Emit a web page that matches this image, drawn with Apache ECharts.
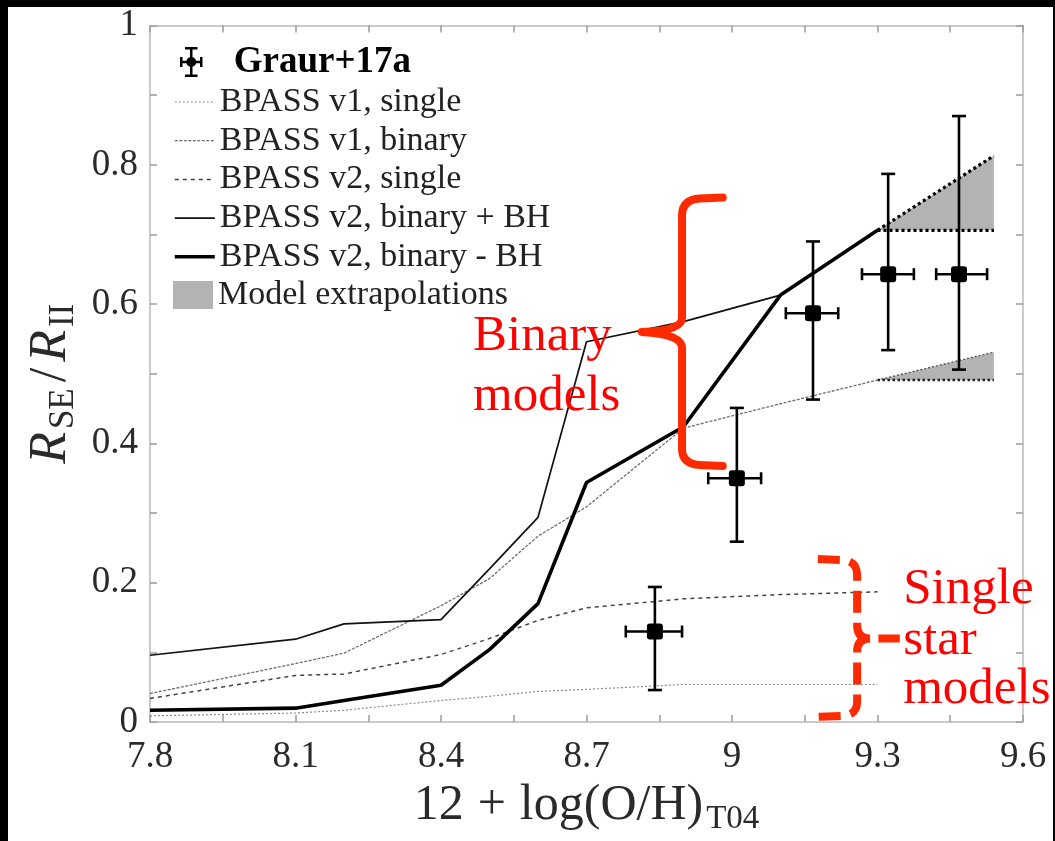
<!DOCTYPE html>
<html>
<head>
<meta charset="utf-8">
<script src="https://cdn.jsdelivr.net/npm/echarts@6/dist/echarts.min.js"></script>
<style>
  html, body { margin: 0; padding: 0; background: #000; width: 1055px; height: 841px; overflow: hidden; }
  #chart { position: absolute; left: 8px; top: 7px; width: 1045px; height: 834px; background: #fff; }
</style>
</head>
<body>
<div id="chart"></div>
<script>
// Oxygen abundance grid of the BPASS model tracks
const metallicity = [7.8, 8.1, 8.2, 8.4, 8.5, 8.6, 8.7, 8.9, 9.1, 9.3];
// SN Ib/c to SN II rate ratio predicted by each model set
const v1Single     = [0.009, 0.013, 0.017, 0.031, 0.037, 0.044, 0.047, 0.054, 0.054, 0.054];
const v1Binary     = [0.041, 0.084, 0.099, 0.167, 0.206, 0.267, 0.309, 0.422, 0.457, 0.491];
const v2Single     = [0.034, 0.067, 0.069, 0.097, 0.120, 0.146, 0.164, 0.177, 0.183, 0.187];
const v2BinaryBH   = [0.096, 0.119, 0.141, 0.147, 0.220, 0.294, 0.546, 0.575, 0.613, 0.706];
const v2BinaryNoBH = [0.017, 0.020, 0.031, 0.053, 0.104, 0.170, 0.344, 0.424, 0.613, 0.706];

// Extrapolation wedges beyond the last model metallicity
const extrapX         = [9.3, 9.54];
const upperExtrapTop  = [0.706, 0.813];
const upperExtrapBase = 0.706;
const lowerExtrapTop  = [0.491, 0.531];
const lowerExtrapBase = 0.491;

// Graur+17a measurements with uncertainties
const graurOH          = [8.841, 9.010, 9.167, 9.322, 9.468];
const graurOHLow       = [8.781, 8.951, 9.111, 9.268, 9.421];
const graurOHHigh      = [8.897, 9.060, 9.219, 9.375, 9.526];
const graurRatio       = [0.130, 0.350, 0.587, 0.643, 0.643];
const graurRatioLow    = [0.046, 0.259, 0.463, 0.534, 0.506];
const graurRatioHigh   = [0.194, 0.451, 0.690, 0.787, 0.870];

// Axis ranges and tick steps
const xRange = [7.8, 9.6], xStep = 0.3;
const yRange = [0, 1], yStep = 0.2;

// Annotation braces: [xEnd, xStem, xTip, yTop, yTip, yBottom, opensLeft(1) / opensRight(0)]
const braceRows = [
  [8.981, 8.897, 8.814, 0.753, 0.560, 0.369, 1],
  [9.177, 9.258, 9.346, 0.234, 0.120, 0.009, 0]
];
// Annotation words and their left/middle anchors in data units
const noteWords = ['Binary', 'models', 'Single', 'star', 'models'];
const noteX     = [8.466, 8.466, 9.353, 9.353, 9.353];
const noteY     = [0.554, 0.467, 0.190, 0.117, 0.047];

const SERIF = "'Liberation Serif', 'DejaVu Serif', serif";
const FRAME = '#b8b8b8';
const TICK = '#9c9c9c';
const INK = '#2a2a2a';
const RED_TEXT = '#ff0000';
const RED_BRACE = '#ff2b00';

// Line looks of the model tracks: [colour, width, dash]
const trackStyles = {
  'BPASS v1, single':      ['#8c8c8c', 1.2, [2, 2]],
  'BPASS v1, binary':      ['#6e6e6e', 1.3, [3, 1.5]],
  'BPASS v2, single':      ['#444444', 1.5, [4, 4]],
  'BPASS v2, binary + BH': ['#111111', 1.7, 'solid'],
  'BPASS v2, binary - BH': ['#000000', 3.6, 'solid']
};

const pairs = (ys) => metallicity.map((x, i) => [x, ys[i]]);

function lineSeries(name, data, color, width, type, z) {
  return {
    name, type: 'line', data, symbol: 'none', silent: true, z,
    lineStyle: { color, width, type }, itemStyle: { color }
  };
}
function trackSeries(name, ys) {
  const [c, w, t] = trackStyles[name];
  return lineSeries(name, pairs(ys), c, w, t, name.indexOf('binary') > 0 && name.indexOf('v2') > 0 ? 3 : 2);
}

function axisDef(kind, position, withLabels) {
  const isX = kind === 'x';
  return {
    type: 'value', position,
    min: isX ? xRange[0] : yRange[0], max: isX ? xRange[1] : yRange[1],
    interval: isX ? xStep : yStep,
    axisLine: { show: true, onZero: false, lineStyle: { color: FRAME, width: 1.5 } },
    axisTick: { show: true, inside: true, length: 7, lineStyle: { color: TICK, width: 1.5 } },
    minorTick: { show: true, splitNumber: 2, length: 7, lineStyle: { color: TICK, width: 1.5 } },
    splitLine: { show: false },
    axisLabel: withLabels ? {
      fontFamily: SERIF, fontSize: 37, color: INK, margin: isX ? 17 : 12,
      formatter: (v) => String(+v.toFixed(1))
    } : { show: false }
  };
}

const xAxes = [axisDef('x', 'bottom', true), axisDef('x', 'top', false)];
Object.assign(xAxes[0], {
  name: '{n|12}{op|+}{n|log(O/H)}{s|T04}',
  nameLocation: 'middle',
  nameGap: 56,
  nameTextStyle: {
    color: INK,
    rich: {
      n:  { fontFamily: SERIF, fontSize: 50, lineHeight: 50, verticalAlign: 'top', color: INK },
      op: { fontFamily: SERIF, fontSize: 50, lineHeight: 50, verticalAlign: 'top', padding: [0, 14, 0, 14], color: INK },
      s:  { fontFamily: SERIF, fontSize: 33, lineHeight: 33, verticalAlign: 'top', padding: [22, 0, 0, 3], color: INK }
    }
  }
});

const yAxes = [axisDef('y', 'left', true), axisDef('y', 'right', false)];
Object.assign(yAxes[0], {
  name: '{i|R}{s|SE}{n|/}{i|R}{s|II}',
  nameLocation: 'middle',
  nameGap: 72,
  nameTextStyle: {
    color: INK,
    padding: [0, 20, 0, 0],
    rich: {
      i: { fontFamily: SERIF, fontStyle: 'italic', fontSize: 52, lineHeight: 52, verticalAlign: 'top', color: INK },
      n: { fontFamily: SERIF, fontSize: 52, lineHeight: 52, verticalAlign: 'top', padding: [0, 6, 0, 6], color: INK },
      s: { fontFamily: SERIF, fontSize: 35, lineHeight: 35, verticalAlign: 'top', padding: [21, 0, 0, 3], color: INK }
    }
  }
});

// Error-bar rows: [x, y, xLow, xHigh, yLow, yHigh]
const graurRows = graurOH.map((x, i) => [x, graurRatio[i], graurOHLow[i], graurOHHigh[i], graurRatioLow[i], graurRatioHigh[i]]);

// Wedges: [x1, y1, x2, y2, x3, y3]
const wedgeRows = [
  [extrapX[0], upperExtrapTop[0], extrapX[1], upperExtrapTop[1], extrapX[1], upperExtrapBase],
  [extrapX[0], lowerExtrapTop[0], extrapX[1], lowerExtrapTop[1], extrapX[1], lowerExtrapBase]
];

function renderErrorBar(params, api) {
  const c  = api.coord([api.value(0), api.value(1)]);
  const l  = api.coord([api.value(2), api.value(1)]);
  const r  = api.coord([api.value(3), api.value(1)]);
  const lo = api.coord([api.value(0), api.value(4)]);
  const hi = api.coord([api.value(0), api.value(5)]);
  const st = { stroke: '#000', lineWidth: 2.6 };
  const capW = 7, capH = 6, half = 8;
  const seg = (x1, y1, x2, y2) => ({ type: 'line', shape: { x1, y1, x2, y2 }, style: st });
  return {
    type: 'group',
    children: [
      seg(c[0], hi[1], c[0], lo[1]),
      seg(c[0] - capW, hi[1], c[0] + capW, hi[1]),
      seg(c[0] - capW, lo[1], c[0] + capW, lo[1]),
      seg(l[0], c[1], r[0], c[1]),
      seg(l[0], c[1] - capH, l[0], c[1] + capH),
      seg(r[0], c[1] - capH, r[0], c[1] + capH),
      { type: 'rect', shape: { x: c[0] - half, y: c[1] - half, width: 2 * half, height: 2 * half, r: 3 }, style: { fill: '#000' } }
    ]
  };
}

function renderWedge(params, api) {
  const pts = [0, 2, 4].map((k) => api.coord([api.value(k), api.value(k + 1)]));
  return { type: 'polygon', shape: { points: pts }, style: { fill: '#b3b3b3' } };
}

function renderBrace(params, api) {
  const [E, T] = api.coord([api.value(0), api.value(3)]);
  const [V, M] = api.coord([api.value(1), api.value(4)]);
  const [P, B] = api.coord([api.value(2), api.value(5)]);
  const opensLeft = api.value(6) === 1;
  let d;
  if (opensLeft) {
    d = `M${E},${T} L${V + 18},${T + 1} Q${V},${T + 2} ${V},${T + 18}` +
      ` L${V},${M - 14} Q${V},${M - 1} ${P},${M}` +
      ` Q${V},${M + 2} ${V},${M + 16} L${V},${B - 16} Q${V},${B - 1} ${V + 18},${B} L${E},${B + 1}`;
  } else {
    d = `M${E},${T} L${V - 14},${T + 1} Q${V},${T + 2} ${V},${T + 16} L${V},${M - 13}` +
      ` Q${V},${M} ${V + 13},${M} L${P},${M}` +
      ` M${V + 13},${M} Q${V},${M} ${V},${M + 13} L${V},${B - 14} Q${V},${B - 1} ${V - 14},${B} L${E},${B + 1}`;
  }
  return {
    type: 'path',
    shape: { pathData: d },
    style: opensLeft
      ? { fill: 'none', stroke: RED_BRACE, lineWidth: 8, lineCap: 'round', lineJoin: 'round' }
      : { fill: 'none', stroke: RED_BRACE, lineWidth: 8, lineDash: [22, 10], lineCap: 'butt' }
  };
}

function renderNote(params, api) {
  const i = params.dataIndex;
  const p = api.coord([api.value(0), api.value(1)]);
  return {
    type: 'text', x: p[0], y: p[1],
    style: { text: noteWords[i], font: `51px ${SERIF}`, fill: RED_TEXT, align: 'left', verticalAlign: 'middle' }
  };
}

const graurIcon = 'path://M10,0H12.5V30H10Z M5,0H17.5V2.5H5Z M5,27.5H17.5V30H5Z M0,13.75H22.5V16.25H0Z M0,10H2.5V20H0Z M20,10H22.5V20H20Z M6.25,15A5,5 0 1,1 16.25,15A5,5 0 1,1 6.25,15Z';

const legendText = { fontFamily: SERIF, fontSize: 34, lineHeight: 32, color: '#222' };

const trackLegendData = Object.keys(trackStyles).map((name) => {
  const [c, w, t] = trackStyles[name];
  return { name, lineStyle: { color: c, width: w, type: t } };
});

const option = {
  animation: false,
  backgroundColor: '#fff',
  grid: { left: 142, right: 30, top: 17, bottom: 117, containLabel: false },
  xAxis: xAxes,
  yAxis: yAxes,
  legend: [
    {
      data: [{ name: 'Graur+17a', icon: graurIcon }],
      left: 167, top: 31, orient: 'vertical',
      itemWidth: 75, itemHeight: 30, symbolKeepAspect: true,
      selectedMode: false,
      itemStyle: { color: '#000' },
      textStyle: { fontFamily: SERIF, fontSize: 37, lineHeight: 38, fontWeight: 'bold', color: '#000' }
    },
    {
      data: trackLegendData,
      left: 160, top: 73, orient: 'vertical',
      itemWidth: 40, itemHeight: 14, itemGap: 4.7,
      selectedMode: false,
      itemStyle: { color: 'rgba(0,0,0,0)', borderWidth: 0, opacity: 0 },
      textStyle: legendText
    },
    {
      data: [{ name: 'Model extrapolations', icon: 'rect' }],
      left: 160, top: 266, orient: 'vertical',
      itemWidth: 40, itemHeight: 28,
      selectedMode: false,
      itemStyle: { color: '#b3b3b3' },
      textStyle: legendText
    }
  ],
  series: [
    {
      name: 'Model extrapolations', type: 'custom', data: wedgeRows, silent: true, z: 1,
      encode: { x: [0, 2, 4], y: [1, 3, 5] },
      itemStyle: { color: '#b3b3b3' },
      renderItem: renderWedge
    },
    trackSeries('BPASS v1, single', v1Single),
    trackSeries('BPASS v1, binary', v1Binary),
    trackSeries('BPASS v2, single', v2Single),
    trackSeries('BPASS v2, binary + BH', v2BinaryBH),
    trackSeries('BPASS v2, binary - BH', v2BinaryNoBH),
    lineSeries('upper wedge slope', [[extrapX[0], upperExtrapTop[0]], [extrapX[1], upperExtrapTop[1]]], '#000', 3.2, [3, 3], 4),
    lineSeries('upper wedge base', [[extrapX[0], upperExtrapBase], [extrapX[1], upperExtrapBase]], '#000', 3.2, [3, 3], 4),
    lineSeries('lower wedge slope', [[extrapX[0], lowerExtrapTop[0]], [extrapX[1], lowerExtrapTop[1]]], '#555', 1.4, [2, 2], 4),
    lineSeries('lower wedge base', [[extrapX[0], lowerExtrapBase], [extrapX[1], lowerExtrapBase]], '#222', 2.4, [2.5, 2.5], 4),
    {
      name: 'Graur+17a', type: 'custom', data: graurRows, silent: true, z: 6,
      encode: { x: [0, 2, 3], y: [1, 4, 5] },
      itemStyle: { color: '#000' },
      renderItem: renderErrorBar
    },
    {
      name: 'braces', type: 'custom', data: braceRows, silent: true, z: 10, clip: false,
      encode: { x: [0, 1, 2], y: [3, 4, 5] },
      renderItem: renderBrace
    },
    {
      name: 'notes', type: 'custom', data: noteX.map((x, i) => [x, noteY[i]]), silent: true, z: 11, clip: false,
      encode: { x: 0, y: 1 },
      renderItem: renderNote
    }
  ]
};

const chart = echarts.init(document.getElementById('chart'), null, { renderer: 'canvas' });
chart.setOption(option);
</script>
</body>
</html>
